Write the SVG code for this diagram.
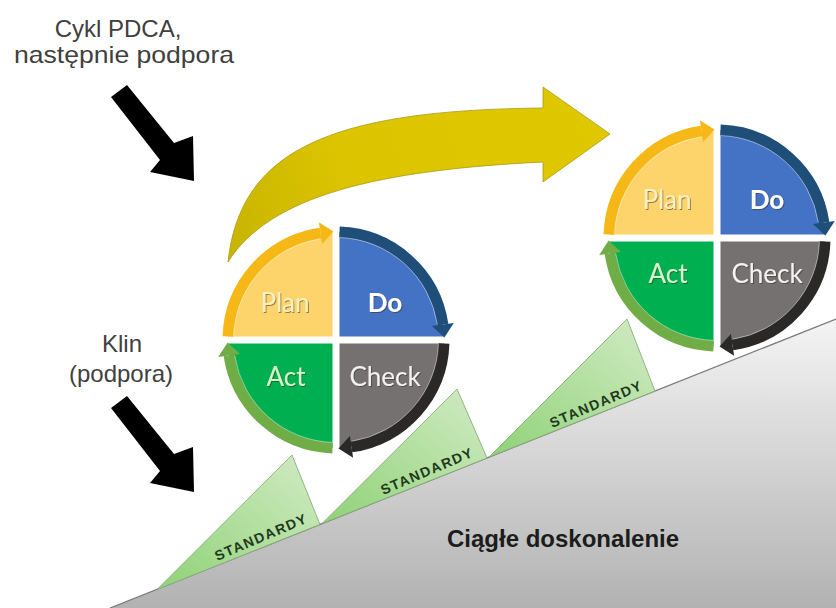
<svg xmlns="http://www.w3.org/2000/svg" xmlns:xlink="http://www.w3.org/1999/xlink" width="836" height="608" viewBox="0 0 836 608">
  <style>
    .caption { font-family: "Liberation Sans", Arial, sans-serif; font-size: 24px; fill: #404040; text-anchor: middle; }
    .ground-label { font-family: "Liberation Sans", Arial, sans-serif; font-size: 24px; font-weight: bold; fill: #1c1c1c; }
    .std { font-family: "Liberation Sans", Arial, sans-serif; font-size: 14px; font-weight: bold; fill: #1f3a1c; letter-spacing: 1.4px; text-anchor: middle; }
    .q-label { font-family: Lato, "Open Sans", sans-serif; font-size: 26px; text-anchor: middle; filter: url(#soft-shadow); }
    .wedge { fill: url(#wedge-fill); stroke: #8aae7c; stroke-width: 0.9; }
    .ring { fill: none; stroke-width: 11; }
    .ring-edge { fill: none; stroke: #ffffff; stroke-opacity: 0.45; stroke-width: 1; }
  </style>
  <defs>
    <linearGradient id="ground-fill" x1="0" y1="319" x2="0" y2="608" gradientUnits="userSpaceOnUse">
      <stop offset="0" stop-color="#f4f4f4"/>
      <stop offset="1" stop-color="#b2b2b2"/>
    </linearGradient>
    <linearGradient id="wedge-fill" x1="1" y1="0" x2="0" y2="1">
      <stop offset="0" stop-color="#d2ebc4"/>
      <stop offset="1" stop-color="#8fd277"/>
    </linearGradient>
    <linearGradient id="jump-fill" x1="228" y1="262" x2="610" y2="134" gradientUnits="userSpaceOnUse">
      <stop offset="0" stop-color="#c8b400"/>
      <stop offset="0.35" stop-color="#dcc400"/>
      <stop offset="1" stop-color="#e0c800"/>
    </linearGradient>
    <filter id="soft-shadow" x="-20%" y="-30%" width="140%" height="160%">
      <feDropShadow dx="1" dy="1" stdDeviation="0.7" flood-color="#3a3320" flood-opacity="0.55"/>
    </filter>
    <!-- one quarter of the wheel (top-right), rotated for the other three -->
    <path id="quarter" d="M3.5,-3.5 V-107.9 A108,108 0 0 1 107.9,-3.5 Z"/>
    <path id="ring-arc" d="M3.5,-107.94 A108,108 0 0 1 106.88,-15.5"/>
    <path id="ring-inner" d="M3.5,-102.44 A102.5,102.5 0 0 1 101.3,-15.5"/>
    <polygon id="ring-head" points="95.9,-13.9 117.8,-17.1 108.4,-2.5"/>
    <!-- black pointer arrow -->
    <polygon id="pointer" points="127,85 174,143 193,136 194,181 150,172 160,160 111,97"/>
  </defs>

  <rect width="836" height="608" fill="#ffffff"/>

  <!-- rising ground -->
  <g id="ground">
    <polygon points="110,608 836,319 836,608" fill="url(#ground-fill)"/>
    <line x1="110" y1="608" x2="836" y2="319" stroke="#7a7a7a" stroke-width="1.3"/>
    <text class="ground-label" x="447" y="547">Ciągłe doskonalenie</text>
  </g>

  <!-- wedges holding each step -->
  <g id="wedge-1">
    <polygon class="wedge" points="157,589.5 292,455 320,524.4"/>
    <text class="std" transform="translate(261,537) rotate(-23)" y="5">STANDARDY</text>
  </g>
  <g id="wedge-2">
    <polygon class="wedge" points="322,523.6 457,389 487,458"/>
    <text class="std" transform="translate(427,471) rotate(-23)" y="5">STANDARDY</text>
  </g>
  <g id="wedge-3">
    <polygon class="wedge" points="489,457 627,319 655,391"/>
    <text class="std" transform="translate(596,404) rotate(-23)" y="5">STANDARDY</text>
  </g>

  <!-- lower PDCA wheel -->
  <g id="wheel-1" transform="translate(336,340)">
    <g id="wheel-1-plan" transform="rotate(-90)">
      <use xlink:href="#quarter" fill="#fdd46c"/>
      <use xlink:href="#ring-arc" class="ring" stroke="#f6b816"/>
      <use xlink:href="#ring-inner" class="ring-edge"/>
      <use xlink:href="#ring-head" fill="#f6b816"/>
    </g>
    <g id="wheel-1-do">
      <use xlink:href="#quarter" fill="#4472c4"/>
      <use xlink:href="#ring-arc" class="ring" stroke="#1f4e79"/>
      <use xlink:href="#ring-inner" class="ring-edge"/>
      <use xlink:href="#ring-head" fill="#1f4e79"/>
    </g>
    <g id="wheel-1-check" transform="rotate(90)">
      <use xlink:href="#quarter" fill="#767171"/>
      <use xlink:href="#ring-arc" class="ring" stroke="#2b2828"/>
      <use xlink:href="#ring-inner" class="ring-edge"/>
      <use xlink:href="#ring-head" fill="#2b2828"/>
    </g>
    <g id="wheel-1-act" transform="rotate(180)">
      <use xlink:href="#quarter" fill="#00b050"/>
      <use xlink:href="#ring-arc" class="ring" stroke="#70ad47"/>
      <use xlink:href="#ring-inner" class="ring-edge"/>
      <use xlink:href="#ring-head" fill="#70ad47"/>
    </g>
    <text class="q-label" x="-51" y="-28" fill="#fcefc0">Plan</text>
    <text class="q-label" x="49" y="-28" fill="#ffffff" font-weight="bold">Do</text>
    <text class="q-label" x="-50" y="46" fill="#d6f3cc">Act</text>
    <text class="q-label" x="49" y="46" fill="#f2f2f2">Check</text>
  </g>

  <!-- upper PDCA wheel -->
  <g id="wheel-2" transform="translate(717,238)">
    <g id="wheel-2-plan" transform="rotate(-90)">
      <use xlink:href="#quarter" fill="#fdd46c"/>
      <use xlink:href="#ring-arc" class="ring" stroke="#f6b816"/>
      <use xlink:href="#ring-inner" class="ring-edge"/>
      <use xlink:href="#ring-head" fill="#f6b816"/>
    </g>
    <g id="wheel-2-do">
      <use xlink:href="#quarter" fill="#4472c4"/>
      <use xlink:href="#ring-arc" class="ring" stroke="#1f4e79"/>
      <use xlink:href="#ring-inner" class="ring-edge"/>
      <use xlink:href="#ring-head" fill="#1f4e79"/>
    </g>
    <g id="wheel-2-check" transform="rotate(90)">
      <use xlink:href="#quarter" fill="#767171"/>
      <use xlink:href="#ring-arc" class="ring" stroke="#2b2828"/>
      <use xlink:href="#ring-inner" class="ring-edge"/>
      <use xlink:href="#ring-head" fill="#2b2828"/>
    </g>
    <g id="wheel-2-act" transform="rotate(180)">
      <use xlink:href="#quarter" fill="#00b050"/>
      <use xlink:href="#ring-arc" class="ring" stroke="#70ad47"/>
      <use xlink:href="#ring-inner" class="ring-edge"/>
      <use xlink:href="#ring-head" fill="#70ad47"/>
    </g>
    <text class="q-label" x="-50" y="-29" fill="#fcefc0">Plan</text>
    <text class="q-label" x="50" y="-29" fill="#ffffff" font-weight="bold">Do</text>
    <text class="q-label" x="-49" y="45" fill="#d6f3cc">Act</text>
    <text class="q-label" x="50" y="45" fill="#f2f2f2">Check</text>
  </g>

  <!-- captions -->
  <g id="caption-pdca">
    <text class="caption" x="118" y="37">Cykl PDCA,</text>
    <text class="caption" x="124" y="63" textLength="220" lengthAdjust="spacingAndGlyphs">następnie podpora</text>
  </g>
  <g id="caption-wedge">
    <text class="caption" x="122" y="352">Klin</text>
    <text class="caption" x="121" y="382">(podpora)</text>
  </g>

  <!-- connectors -->
  <g id="connectors">
    <path id="jump-arrow" d="M228,262 C240,150 330,110 543,108 L543,87 L610,134 L543,182 L543,162 C380,170 270,195 228,262 Z" fill="url(#jump-fill)" stroke="#a89a18" stroke-width="0.8"/>
    <use id="pointer-pdca" xlink:href="#pointer" fill="#000000"/>
    <use id="pointer-wedge" xlink:href="#pointer" fill="#000000" transform="translate(0,311)"/>
  </g>
</svg>
